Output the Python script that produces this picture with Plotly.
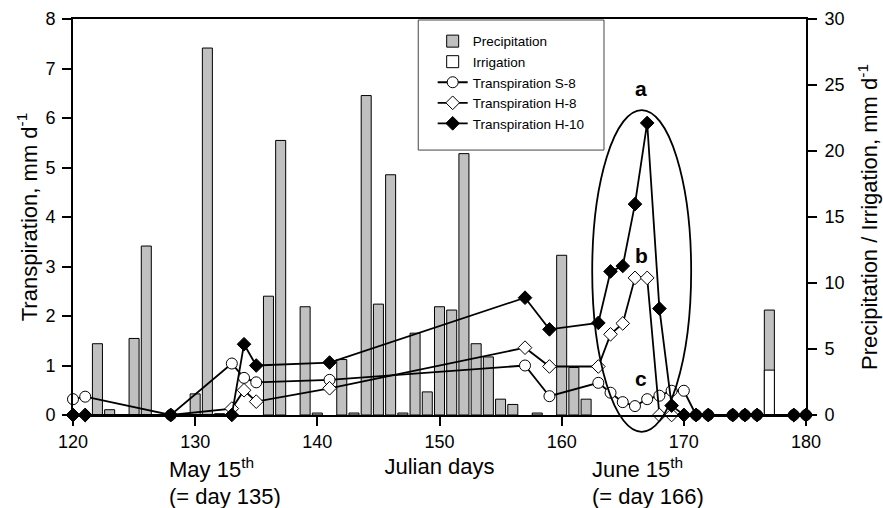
import plotly.graph_objects as go

# ---- data ----
precip_days = [122, 123, 125, 126, 130, 131, 132, 136, 137, 139, 140, 142, 143, 144, 145, 146,
               147, 148, 149, 150, 151, 152, 153, 154, 155, 156, 158, 160, 161, 162, 177]
precip_vals = [5.4, 0.4, 5.8, 12.8, 1.6, 27.8, 0.1, 9.0, 20.8, 8.2, 0.15, 4.2, 0.15, 24.2, 8.4, 18.2,
               0.15, 6.2, 1.75, 8.2, 7.95, 19.8, 5.4, 4.4, 1.2, 0.8, 0.15, 12.1, 3.6, 1.2, 7.95]
irrig_days = [177]
irrig_vals = [3.4]

t_days = [120, 121, 128, 133, 134, 135, 141, 157, 159, 163, 164, 165, 166, 167, 168, 169, 170,
          171, 172, 174, 175, 176, 179, 180]
t_s8 = [0.32, 0.37, 0, 1.04, 0.75, 0.66, 0.71, 1.0, 0.38, 0.65, 0.45, 0.26, 0.18, 0.32, 0.39, 0.49, 0.49,
        0, 0, 0, 0, 0, 0, 0]
t_h8 = [0, 0, 0, 0.13, 0.5, 0.27, 0.54, 1.36, 0.98, 0.98, 1.63, 1.85, 2.77, 2.77, 0, 0, 0,
        0, 0, 0, 0, 0, 0, 0]
t_h10 = [0, 0, 0, 0, 1.43, 1.0, 1.06, 2.37, 1.73, 1.86, 2.9, 3.01, 4.26, 5.9, 2.15, 0.19, 0,
         0, 0, 0, 0, 0, 0, 0]

x_ticks = [120, 130, 140, 150, 160, 170, 180]
x_range = [120, 180]
t_range = [0, 8]
p_range = [0, 30]

# ellipse around the peak (data units: days, transpiration)
ell_x = [162.5, 170.6]
ell_y = [-0.34, 6.16]

FONT = "Liberation Sans, Arial, sans-serif"

fig = go.Figure()
fig.add_trace(go.Bar(x=precip_days, y=precip_vals, name="Precipitation", yaxis="y",
                     width=0.82, marker=dict(color="#c0c0c0", line=dict(color="black", width=1))))
fig.add_trace(go.Bar(x=irrig_days, y=irrig_vals, name="Irrigation", yaxis="y",
                     width=0.82, marker=dict(color="white", line=dict(color="black", width=1))))

line = dict(color="black", width=1.8)
fig.add_trace(go.Scatter(x=t_days, y=t_s8, name="Transpiration S-8", yaxis="y2", mode="lines+markers",
                         line=line, cliponaxis=False,
                         marker=dict(symbol="circle", size=11, color="white", line=dict(color="black", width=1))))
fig.add_trace(go.Scatter(x=t_days, y=t_h8, name="Transpiration H-8", yaxis="y2", mode="lines+markers",
                         line=line, cliponaxis=False,
                         marker=dict(symbol="diamond", size=10.5, color="white", line=dict(color="black", width=1))))
fig.add_trace(go.Scatter(x=t_days, y=t_h10, name="Transpiration H-10", yaxis="y2", mode="lines+markers",
                         line=line, cliponaxis=False,
                         marker=dict(symbol="diamond", size=10.5, color="black", line=dict(color="black", width=1))))


def fx(v):
    # plot domain is [0, 1] in paper units
    return (v - x_range[0]) / (x_range[1] - x_range[0])


def fy(v):
    return (v - t_range[0]) / (t_range[1] - t_range[0])


shapes = [
    dict(type="circle", xref="paper", yref="paper", x0=fx(ell_x[0]), x1=fx(ell_x[1]),
         y0=fy(ell_y[0]), y1=fy(ell_y[1]), line=dict(color="black", width=1.8)),
    dict(type="rect", xref="paper", yref="paper", x0=0.471, x1=0.7244, y0=0.669, y1=0.9975,
         line=dict(color="#444444", width=1), fillcolor="white", layer="below"),
]

annotations = [
    dict(x=166.5, y=6.6, xref="x", yref="y2", text="<b>a</b>", showarrow=False,
         font=dict(size=21, family=FONT, color="black")),
    dict(x=166.5, y=3.23, xref="x", yref="y2", text="<b>b</b>", showarrow=False,
         font=dict(size=21, family=FONT, color="black")),
    dict(x=166.5, y=0.73, xref="x", yref="y2", text="<b>c</b>", showarrow=False,
         font=dict(size=21, family=FONT, color="black")),
    dict(x=127.7, y=-0.133, xref="x", yref="paper", text="May 15<sup>th</sup>", showarrow=False,
         xanchor="left", yanchor="middle", font=dict(size=22, family=FONT, color="black")),
    dict(x=127.7, y=-0.205, xref="x", yref="paper", text="(= day 135)", showarrow=False,
         xanchor="left", yanchor="middle", font=dict(size=22, family=FONT, color="black")),
    dict(x=162.3, y=-0.133, xref="x", yref="paper", text="June 15<sup>th</sup>", showarrow=False,
         xanchor="left", yanchor="middle", font=dict(size=22, family=FONT, color="black")),
    dict(x=162.3, y=-0.205, xref="x", yref="paper", text="(= day 166)", showarrow=False,
         xanchor="left", yanchor="middle", font=dict(size=22, family=FONT, color="black")),
]

axis_common = dict(showline=True, linecolor="black", linewidth=2, ticks="outside", ticklen=9,
                   tickwidth=2, tickcolor="black", showgrid=False, zeroline=False, automargin=False,
                   tickfont=dict(size=18, family=FONT, color="black"))

fig.update_layout(
    width=883, height=508,
    margin=dict(l=73, r=77, t=19, b=93, autoexpand=False),
    paper_bgcolor="white", plot_bgcolor="white",
    barmode="overlay",
    font=dict(family=FONT, color="black"),
    xaxis=dict(range=x_range, tickvals=x_ticks, mirror=True,
               title=dict(text="Julian days", font=dict(size=22, family=FONT, color="black"), standoff=8),
               **axis_common),
    yaxis=dict(range=p_range, dtick=5, side="right", ticklabelstandoff=4,
               title=dict(text="Precipitation / Irrigation, mm d<sup>-1</sup>",
                          font=dict(size=22, family=FONT, color="black"), standoff=18),
               **axis_common),
    yaxis2=dict(range=t_range, dtick=1, side="left", overlaying="y", ticklabelstandoff=3,
                title=dict(text="Transpiration, mm d<sup>-1</sup>",
                           font=dict(size=22, family=FONT, color="black"), standoff=2),
                **axis_common),
    legend=dict(x=0.4907, y=0.84, xanchor="left", yanchor="middle", borderwidth=0,
                bgcolor="rgba(0,0,0,0)", font=dict(size=13.5, family=FONT, color="black"),
                traceorder="normal"),
    shapes=shapes,
    annotations=annotations,
    showlegend=True,
)

fig.write_html("out.html")
